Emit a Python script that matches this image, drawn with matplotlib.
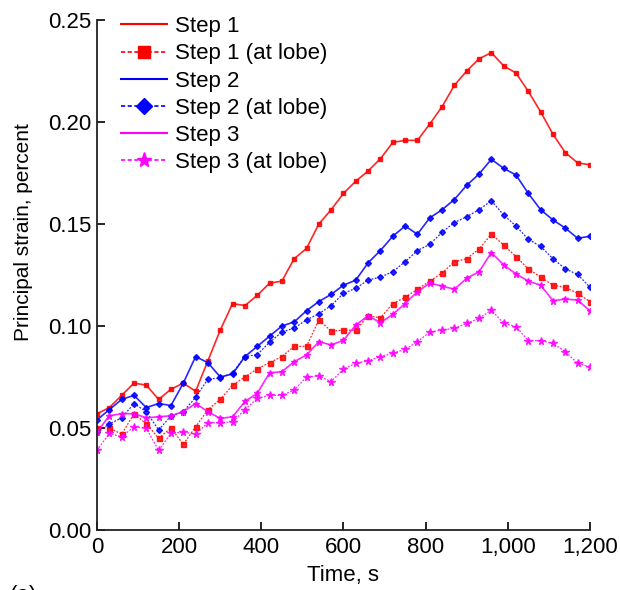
import matplotlib
matplotlib.use("Agg")
import matplotlib.pyplot as plt
from matplotlib.lines import Line2D
from matplotlib.ticker import FuncFormatter

plt.rcParams['font.family'] = ['Liberation Sans', 'DejaVu Sans']

# Time samples (s), one marker every 30 s
time_s = list(range(0, 1201, 30))

# Principal strain, percent
step1 = [0.057, 0.060, 0.066, 0.072, 0.071, 0.064, 0.069, 0.072, 0.068, 0.083,
         0.098, 0.111, 0.110, 0.115, 0.121, 0.122, 0.133, 0.138, 0.150, 0.157,
         0.165, 0.171, 0.176, 0.182, 0.190, 0.191, 0.191, 0.199, 0.2075, 0.218,
         0.225, 0.231, 0.234, 0.2275, 0.224, 0.215, 0.205, 0.194, 0.185, 0.180,
         0.179]
step1_lobe = [0.050, 0.050, 0.047, 0.057, 0.052, 0.045, 0.050, 0.042, 0.0506, 0.059,
              0.064, 0.071, 0.075, 0.079, 0.082, 0.085, 0.090, 0.090, 0.103, 0.0975,
              0.098, 0.098, 0.105, 0.104, 0.111, 0.114, 0.118, 0.122, 0.126, 0.1315,
              0.133, 0.1377, 0.145, 0.1397, 0.134, 0.128, 0.124, 0.120, 0.119, 0.116,
              0.112]
step2 = [0.054, 0.059, 0.064, 0.066, 0.060, 0.062, 0.061, 0.072, 0.085, 0.082,
         0.075, 0.0765, 0.085, 0.090, 0.095, 0.100, 0.102, 0.1075, 0.112, 0.1155,
         0.120, 0.1225, 0.131, 0.137, 0.144, 0.149, 0.145, 0.153, 0.157, 0.162,
         0.169, 0.1745, 0.1817, 0.1773, 0.174, 0.165, 0.157, 0.152, 0.148, 0.143,
         0.144]
step2_lobe = [0.048, 0.052, 0.055, 0.062, 0.058, 0.049, 0.056, 0.058, 0.065, 0.074,
              0.0745, 0.077, 0.085, 0.086, 0.092, 0.097, 0.099, 0.103, 0.106, 0.110,
              0.116, 0.1185, 0.1225, 0.124, 0.1266, 0.1315, 0.137, 0.140, 0.146, 0.1507,
              0.1536, 0.157, 0.1614, 0.1544, 0.149, 0.1425, 0.139, 0.133, 0.128, 0.1253,
              0.119]
step3 = [0.048, 0.056, 0.057, 0.057, 0.055, 0.0555, 0.056, 0.058, 0.062, 0.058,
         0.0547, 0.0555, 0.063, 0.067, 0.077, 0.0776, 0.0825, 0.0858, 0.0923, 0.0907,
         0.093, 0.1005, 0.105, 0.1016, 0.1057, 0.111, 0.1168, 0.121, 0.1196, 0.118,
         0.1234, 0.1266, 0.136, 0.130, 0.1255, 0.122, 0.120, 0.1124, 0.1132, 0.1127,
         0.1075]
step3_lobe = [0.039, 0.0474, 0.0457, 0.0506, 0.0498, 0.039, 0.0474, 0.048, 0.047, 0.0526,
              0.0526, 0.053, 0.059, 0.0645, 0.066, 0.066, 0.0686, 0.075, 0.0755, 0.0727,
              0.079, 0.0817, 0.083, 0.085, 0.0866, 0.0886, 0.0923, 0.097, 0.098, 0.0989,
              0.1013, 0.1037, 0.1078, 0.1013, 0.0997, 0.0928, 0.0928, 0.0915, 0.0874, 0.0817,
              0.080]

labels = ["Step 1", "Step 1 (at lobe)", "Step 2", "Step 2 (at lobe)",
          "Step 3", "Step 3 (at lobe)"]
x_ticks = [0, 200, 400, 600, 800, 1000, 1200]
y_ticks = [0.00, 0.05, 0.10, 0.15, 0.20, 0.25]

fs = 16  # text size used everywhere

fig = plt.figure(figsize=(6.2, 5.9), dpi=100)
ax = fig.add_axes([0.1565, 0.1017, 0.795, 0.8644])

dotted = (0, (1.5, 1.2))

# (series, color, marker, marker size, linestyle, linewidth)
series = [
    (step1, "#ff0000", "s", 3.2, "-", 1.2),
    (step1_lobe, "#ff0000", "s", 3.6, dotted, 0.9),
    (step2, "#0000ff", "D", 3.0, "-", 1.2),
    (step2_lobe, "#0000ff", "D", 3.0, dotted, 0.9),
    (step3, "#ff00ff", "*", 5.0, "-", 1.2),
    (step3_lobe, "#ff00ff", "*", 5.5, dotted, 0.9),
]

handles = []
for (vals, col, mk, ms, ls, lw), lab in zip(series, labels):
    ax.plot(time_s, vals, color=col, ls=ls, lw=lw, marker=mk, ms=ms,
            mec=col, mfc=col, alpha=0.85)
    if ls == "-":
        handles.append(Line2D([], [], color=col, lw=1.5, label=lab))
    else:
        handles.append(Line2D([], [], color=col, lw=1.2, ls=(0, (2.5, 1.5)),
                              marker=mk, ms=8 if mk != "*" else 11, label=lab))

ax.set_xlim(0, 1200)
ax.set_ylim(0, 0.25)
ax.set_xticks(x_ticks)
ax.set_yticks(y_ticks)
ax.xaxis.set_major_formatter(FuncFormatter(lambda v, p: f"{int(v):,}"))
ax.yaxis.set_major_formatter(FuncFormatter(lambda v, p: f"{v:.2f}"))
ax.tick_params(direction="in", length=6, width=1.2, labelsize=fs)
ax.tick_params(axis="x", pad=5)
ax.tick_params(axis="y", pad=4)

for side in ["top", "right"]:
    ax.spines[side].set_visible(False)
for side in ["left", "bottom"]:
    ax.spines[side].set_linewidth(1.3)
    ax.spines[side].set_color("#222222")

ax.set_xlabel("Time, s", fontsize=fs, labelpad=5)
ax.set_ylabel("Principal strain, percent", fontsize=15)
# label sits a bit above the middle of the axis, as in the original
ax.yaxis.set_label_coords(-0.13, 0.584)

ax.legend(handles=handles, loc="upper left", bbox_to_anchor=(0.03, 1.025),
          frameon=False, fontsize=fs, handlelength=2.1, handletextpad=0.35,
          labelspacing=0.28, borderaxespad=0)

fig.text(0.015, 0.009, "(a)", fontsize=fs, va="top")

fig.savefig("out.png", dpi=100)
